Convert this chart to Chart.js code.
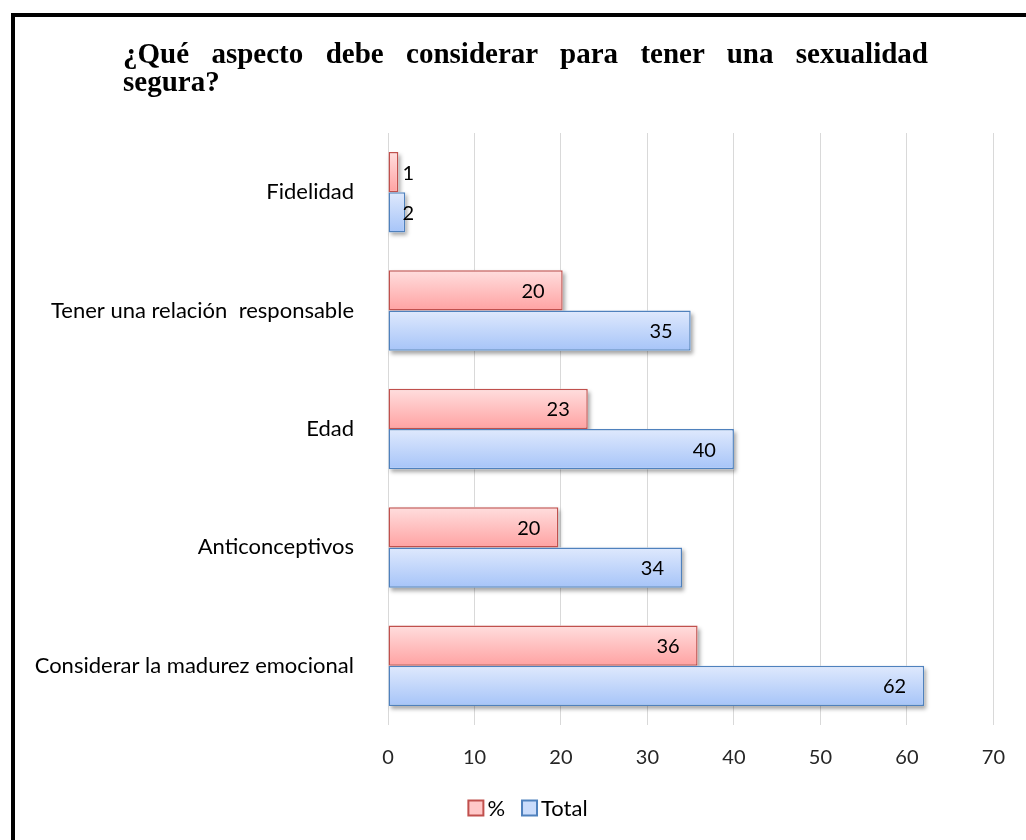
<!DOCTYPE html>
<html lang="es">
<head>
<meta charset="UTF-8">
<title>Sexualidad segura</title>
<style>
  html, body { margin: 0; padding: 0; background: #fff; overflow: hidden; }
  #wrap { position: relative; width: 1026px; height: 840px; overflow: hidden; }
  #frame { position: absolute; left: 11px; top: 13px; width: 2000px; height: 2000px; border: 4px solid #000; pointer-events: none; }
  #title { position: absolute; left: 123px; top: 39px; width: 805px; font-family: "Liberation Serif", "Times New Roman", serif; font-weight: bold; font-size: 29px; line-height: 28px; color: #000; }
  #title .l1 { text-align: justify; text-align-last: justify; }
  canvas { position: absolute; left: 0; top: 0; }
</style>
<script src="https://cdn.jsdelivr.net/npm/chart.js"></script>
</head>
<body>
<div id="wrap">
  <canvas id="chart" width="1026" height="840"></canvas>
  <div id="title"><div class="l1">¿Qué aspecto debe considerar para tener una sexualidad</div><div>segura?</div></div>
  <div id="frame"></div>
</div>
<script>
const categories = ['Fidelidad', 'Tener una relación  responsable', 'Edad', 'Anticonceptivos', 'Considerar la madurez emocional'];
const seriesNames = ['%', 'Total'];
const percentValues = [1.2, 20.2, 23.1, 19.7, 35.8];
const totalValues = [2, 35, 40, 34, 62];
const xTicks = [0, 10, 20, 30, 40, 50, 60, 70];

const gradTop = ['#ffdede', '#dfe9fd'];
const gradBottom = ['#ffa2a2', '#a6c4f8'];
const borders = ['#c0504d', '#4f81bd'];
const legendFill = ['#ffc8c8', '#cadcfb'];
const FONT = 'Lato, "Noto Sans", sans-serif';

// gradient fill + soft shadow under each bar
const barStyle = {
  id: 'barStyle',
  beforeDatasetsDraw(chart) {
    const ctx = chart.ctx;
    chart.data.datasets.forEach((ds, i) => {
      chart.getDatasetMeta(i).data.forEach(bar => {
        const top = bar.y - bar.height / 2;
        const g = ctx.createLinearGradient(0, top, 0, top + bar.height);
        g.addColorStop(0, gradTop[i]);
        g.addColorStop(1, gradBottom[i]);
        bar.options.backgroundColor = g;
        ctx.save();
        ctx.shadowColor = 'rgba(0,0,0,0.35)';
        ctx.shadowBlur = 4;
        ctx.shadowOffsetX = 2;
        ctx.shadowOffsetY = 3;
        ctx.fillStyle = '#fff';
        ctx.fillRect(bar.base, top, bar.x - bar.base, bar.height);
        ctx.restore();
      });
    });
  }
};

// value labels at the inside end of the bars
const barLabels = {
  id: 'barLabels',
  afterDatasetsDraw(chart) {
    const ctx = chart.ctx;
    const base = chart.scales.x.getPixelForValue(0);
    ctx.save();
    ctx.font = '20px ' + FONT;
    ctx.fillStyle = '#000';
    ctx.textAlign = 'right';
    ctx.textBaseline = 'middle';
    chart.data.datasets.forEach((ds, i) => {
      chart.getDatasetMeta(i).data.forEach((bar, j) => {
        const x = Math.max(bar.x - 18, base + 26);
        ctx.fillText(Math.round(ds.data[j]), x, bar.y + 1);
      });
    });
    ctx.restore();
  }
};

// legend drawn like the office one: small box, tight gap
const tightLegend = {
  id: 'tightLegend',
  afterDraw(chart) {
    const ctx = chart.ctx;
    const box = 15, gap = 4, spacing = 17, cx = 528, cy = 808;
    ctx.save();
    ctx.font = '22px ' + FONT;
    ctx.textBaseline = 'middle';
    const widths = seriesNames.map(t => ctx.measureText(t).width);
    const total = widths.reduce((a, w) => a + box + gap + w, 0) + spacing * (seriesNames.length - 1);
    let x = cx - total / 2;
    seriesNames.forEach((name, i) => {
      ctx.fillStyle = legendFill[i];
      ctx.strokeStyle = borders[i];
      ctx.lineWidth = 2;
      ctx.fillRect(x, cy - box / 2, box, box);
      ctx.strokeRect(x, cy - box / 2, box, box);
      ctx.fillStyle = '#000';
      ctx.fillText(name, x + box + gap, cy + 1);
      x += box + gap + widths[i] + spacing;
    });
    ctx.restore();
  }
};

new Chart(document.getElementById('chart'), {
  type: 'bar',
  data: {
    labels: categories,
    datasets: [
      { label: seriesNames[0], data: percentValues, backgroundColor: () => legendFill[0], borderColor: borders[0], borderWidth: 1.5, borderSkipped: false },
      { label: seriesNames[1], data: totalValues, backgroundColor: () => legendFill[1], borderColor: borders[1], borderWidth: 1.5, borderSkipped: false }
    ]
  },
  options: {
    indexAxis: 'y',
    responsive: false,
    animation: false,
    categoryPercentage: 0.68,
    barPercentage: 1,
    layout: { padding: { top: 133, right: 28, bottom: 51, left: 0 } },
    scales: {
      x: {
        min: 0, max: 70,
        afterBuildTicks: s => { s.ticks = xTicks.map(v => ({ value: v })); },
        afterFit: s => { s.height = 64; },
        grid: { color: '#d9d9d9', drawTicks: false },
        border: { display: false },
        ticks: { font: { family: FONT, size: 20 }, color: '#262626', padding: 21 }
      },
      y: {
        afterFit: s => { s.width = 388; },
        grid: { display: false, drawTicks: false },
        border: { display: false },
        ticks: { font: { family: FONT, size: 22 }, color: '#000', padding: 34 }
      }
    },
    plugins: {
      legend: { display: false },
      tooltip: { enabled: false }
    }
  },
  plugins: [barStyle, barLabels, tightLegend]
});
</script>
</body>
</html>
